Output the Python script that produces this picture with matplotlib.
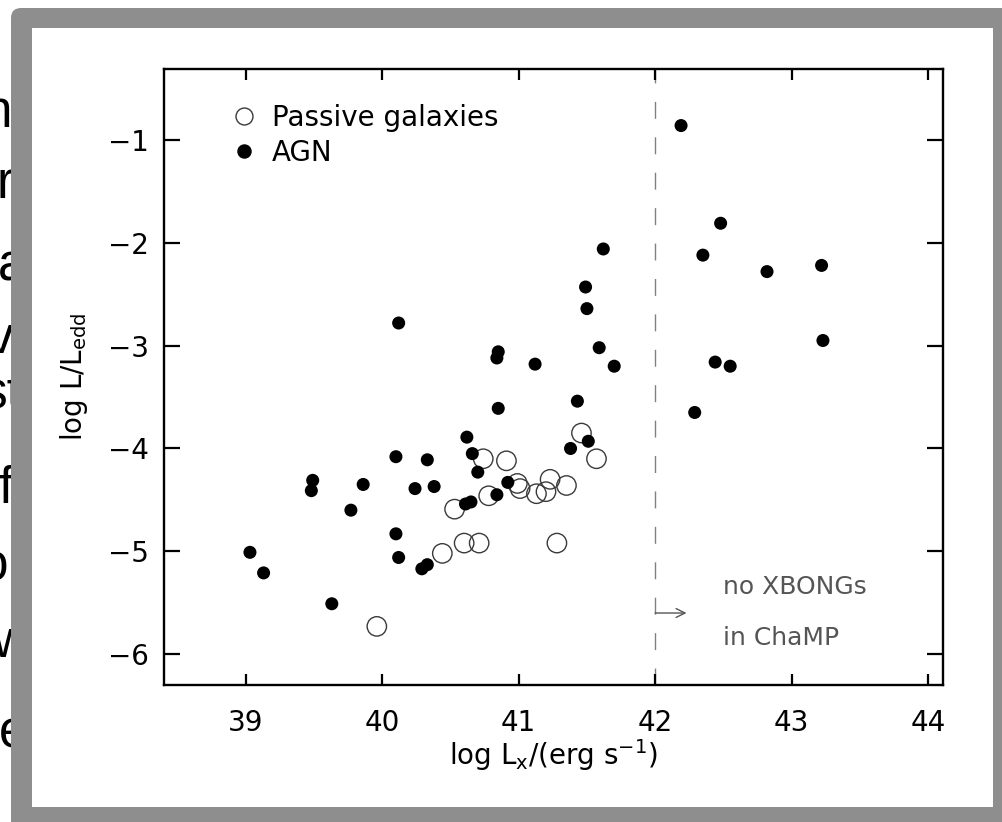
import matplotlib
matplotlib.use("Agg")
import matplotlib.pyplot as plt
from matplotlib.patches import FancyBboxPatch, Rectangle
from matplotlib.lines import Line2D

plt.rcParams['font.family'] = 'DejaVu Sans'
plt.rcParams['mathtext.default'] = 'regular'

# passive galaxies (open circles)
passive_x = [39.96, 40.44, 40.60, 40.71, 40.53, 40.74, 40.91, 40.78, 40.99,
             41.01, 41.13, 41.20, 41.23, 41.35, 41.28, 41.46, 41.57]
passive_y = [-5.73, -5.02, -4.92, -4.92, -4.59, -4.10, -4.12, -4.46, -4.34,
             -4.39, -4.44, -4.42, -4.30, -4.36, -4.92, -3.85, -4.10]

# AGN (filled dots)
agn_x = [39.03, 39.13, 39.49, 39.48, 39.63, 39.77, 39.86, 40.10, 40.10, 40.12,
         40.12, 40.24, 40.29, 40.33, 40.33, 40.38, 40.62, 40.66, 40.70, 40.61,
         40.65, 40.84, 40.92, 40.85, 40.84, 40.85, 41.12, 41.38, 41.43, 41.51,
         41.49, 41.50, 41.59, 41.62, 41.70, 42.19, 42.29, 42.35, 42.44, 42.48,
         42.55, 42.82, 43.22, 43.23]
agn_y = [-5.01, -5.21, -4.31, -4.41, -5.51, -4.60, -4.35, -4.08, -4.83, -5.06,
         -2.78, -4.39, -5.17, -5.13, -4.11, -4.37, -3.89, -4.05, -4.23, -4.54,
         -4.52, -4.45, -4.33, -3.06, -3.12, -3.61, -3.18, -4.00, -3.54, -3.93,
         -2.43, -2.64, -3.02, -2.06, -3.20, -0.86, -3.65, -2.12, -3.16, -1.81,
         -3.20, -2.28, -2.22, -2.95]

x_ticks = [39, 40, 41, 42, 43, 44]
y_ticks = [-6, -5, -4, -3, -2, -1]
x_cut = 42.0

# letters of the page text peeking out left of the frame (pixels)
frag_text = ['n', 'r', 'a', 'v', 'st', 'f', 'o', 'w', 'e']
frag_x = [-16, -3, -2, -12, -18, -2, -20, -8, -1]
frag_y = [127, 198, 280, 353, 408, 503, 580, 657, 747]

W, H = 1002, 822
fig = plt.figure(figsize=(W / 100, H / 100), dpi=100)
inch = fig.dpi_scale_trans

for s, px, py in zip(frag_text, frag_x, frag_y):
    fig.text(px / 100, (H - py) / 100, s, transform=inch, fontsize=37,
             family='Liberation Sans', ha='left', va='baseline', zorder=0.5)

frame = FancyBboxPatch((0.11, -0.5), 10.5, (H - 8) / 100 + 0.5,
                       boxstyle="round,pad=0,rounding_size=0.1",
                       transform=inch, facecolor='#8e8e8e', edgecolor='none',
                       zorder=1)
panel = Rectangle((0.32, (H - 807) / 100), 9.61, 7.79, transform=inch,
                  facecolor='white', edgecolor='none', zorder=2)
fig.add_artist(frame)
fig.add_artist(panel)

ax = fig.add_axes([164 / W, 1 - 685 / H, 779 / W, 616 / H])
ax.set_zorder(5)

ax.axvline(x_cut, color='#808080', lw=1, ls=(0, (12.2, 13.3)), zorder=1)
ax.scatter(passive_x, passive_y, s=195, facecolors='none',
           edgecolors='#3a3a3a', linewidths=1.0, zorder=2)
ax.scatter(agn_x, agn_y, s=88, c='black', edgecolors='none', zorder=3)

ax.annotate('', xy=(42.23, -5.60), xytext=(x_cut, -5.60),
            arrowprops=dict(arrowstyle='->', color='#555555', lw=1,
                            shrinkA=0, shrinkB=0, mutation_scale=16))
ax.text(42.5, -5.416, 'no XBONGs', fontsize=18, color='#555555',
        va='baseline', ha='left')
ax.text(42.5, -5.91, 'in ChaMP', fontsize=18, color='#555555',
        va='baseline', ha='left')

handles = [
    Line2D([], [], marker='o', ls='none', markersize=12.2, mfc='none',
           mec='#3a3a3a', mew=1.0),
    Line2D([], [], marker='o', ls='none', markersize=9.4, color='black'),
]
ax.legend(handles, ['Passive galaxies', 'AGN'], loc='upper left',
          bbox_to_anchor=(0.085, 0.943), frameon=False, fontsize=20,
          handlelength=1.0, handletextpad=0.5, labelspacing=0.25,
          borderpad=0, borderaxespad=0)

ax.set_xlim(38.4, 44.11)
ax.set_ylim(-6.3, -0.31)
ax.set_xticks(x_ticks)
ax.set_yticks(y_ticks)
ax.tick_params(direction='in', top=True, right=True, width=1.6,
               labelsize=20)
ax.tick_params(axis='x', length=8, pad=17)
ax.tick_params(axis='y', length=11.5, pad=11)
for sp in ax.spines.values():
    sp.set_linewidth(1.7)

ax.set_xlabel('log L$_{x}$/(erg s$^{-1}$)', fontsize=20)
ax.set_ylabel('log L/L$_{edd}$', fontsize=20)
ax.xaxis.set_label_coords(0.5, -0.085)
ax.yaxis.set_label_coords(-0.095, 0.5)

fig.savefig('out.png', dpi=100)
